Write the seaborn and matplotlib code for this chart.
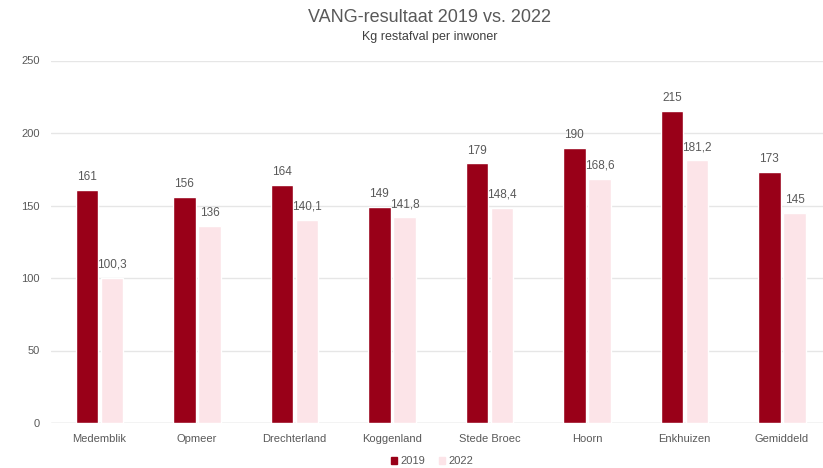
import matplotlib
matplotlib.use("Agg")
import matplotlib.pyplot as plt
import seaborn as sns
import pandas as pd

gemeenten = ["Medemblik", "Opmeer", "Drechterland", "Koggenland", "Stede Broec",
             "Hoorn", "Enkhuizen", "Gemiddeld"]
waarden_2019 = [161, 156, 164, 149, 179, 190, 215, 173]
waarden_2022 = [100.3, 136, 140.1, 141.8, 148.4, 168.6, 181.2, 145]
jaren = ["2019", "2022"]

df = pd.DataFrame({
    "gemeente": gemeenten * 2,
    "jaar": [jaren[0]] * len(gemeenten) + [jaren[1]] * len(gemeenten),
    "kg": waarden_2019 + waarden_2022,
})

sns.set_theme(style="white")
plt.rcParams['font.family'] = ['Liberation Sans', 'DejaVu Sans']

grijs = "#595959"
kleuren = {"2019": "#990018", "2022": "#fce4e8"}

fig = plt.figure(figsize=(8.23, 4.68), dpi=100)
ax = fig.add_axes([50.75 / 823, 45 / 468, 780 / 823, 362.5 / 468])

sns.barplot(data=df, x="gemeente", y="kg", hue="jaar", palette=kleuren,
            width=0.52, gap=0.11, ax=ax, legend=False, saturation=1)

# waardelabels boven de staven, met komma als decimaalteken
for cont, jaar in zip(ax.containers, jaren):
    labels = [f"{v:g}".replace(".", ",") for v in cont.datavalues]
    ax.bar_label(cont, labels=labels, padding=5, fontsize=8.5, color=grijs)

ax.set_ylim(0, 250)
ax.set_xlim(-0.5, len(gemeenten) - 0.5)
ax.set_yticks(range(0, 251, 50))
ax.yaxis.grid(True, color="#e6e6e6", linewidth=1)
ax.set_axisbelow(True)
for s in ax.spines.values():
    s.set_visible(False)
ax.axhline(0, color="#d9d9d9", linewidth=1, zorder=0)
ax.tick_params(axis="both", colors=grijs, labelsize=8, length=0, pad=8)
ax.set_xlabel("")
ax.set_ylabel("")

fig.text(430 / 823, 1 - 18 / 468, "VANG-resultaat 2019 vs. 2022", ha="center",
         va="center", fontsize=13, color=grijs)
fig.text(430 / 823, 1 - 37 / 468, "Kg restafval per inwoner", ha="center",
         va="center", fontsize=9, color="#404040")

handles = [plt.Rectangle((0, 0), 1, 1, color=kleuren[j]) for j in jaren]
fig.legend(handles, jaren, loc="center", bbox_to_anchor=(432 / 823, 1 - 461 / 468),
           ncol=2, frameon=False, fontsize=8, labelcolor=grijs,
           handlelength=0.6, handleheight=0.6, handletextpad=0.3, columnspacing=1.2)

fig.savefig("out.png", dpi=100)
